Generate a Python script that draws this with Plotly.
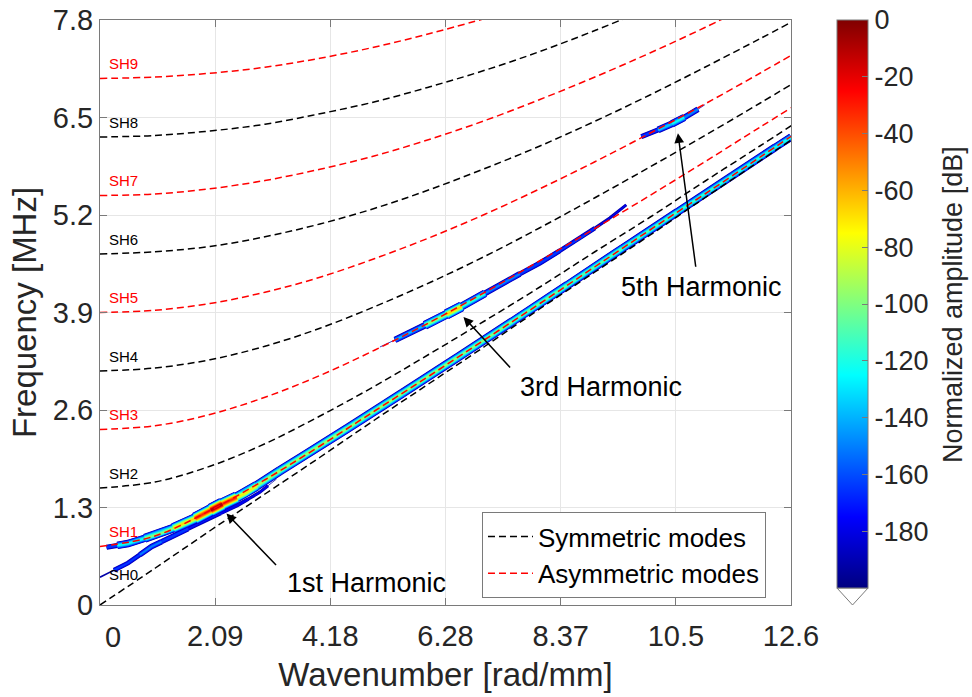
import plotly.graph_objects as go

# ---------------- data ----------------
# wavenumber samples (rad/mm) used for the SH dispersion curves
k_modes = [0, 1, 2, 3, 4, 5, 6, 7, 8, 9, 10, 11, 12, 12.57]
sh0 = [0, 0.49, 0.99, 1.48, 1.97, 2.47, 2.96, 3.45, 3.95, 4.44, 4.93, 5.43, 5.92, 6.20]
sh1 = [0.78, 0.92, 1.26, 1.67, 2.12, 2.59, 3.06, 3.54, 4.02, 4.51, 5.00, 5.48, 5.97, 6.25]
sh2 = [1.56, 1.64, 1.85, 2.15, 2.52, 2.92, 3.35, 3.79, 4.24, 4.71, 5.17, 5.65, 6.12, 6.39]
sh3 = [2.34, 2.39, 2.54, 2.77, 3.06, 3.40, 3.77, 4.17, 4.59, 5.02, 5.46, 5.91, 6.37, 6.63]
sh4 = [3.12, 3.16, 3.27, 3.45, 3.69, 3.98, 4.30, 4.65, 5.03, 5.43, 5.84, 6.26, 6.69, 6.94]
sh5 = [3.90, 3.93, 4.02, 4.17, 4.37, 4.62, 4.90, 5.21, 5.55, 5.91, 6.29, 6.68, 7.09, 7.33]
sh6 = [4.68, 4.71, 4.78, 4.91, 5.08, 5.29, 5.54, 5.82, 6.12, 6.45, 6.80, 7.17, 7.55, 7.77]
sh7 = [5.46, 5.48, 5.55, 5.66, 5.81, 5.99, 6.21, 6.46, 6.74, 7.04, 7.36, 7.70, 8.06]
sh8 = [6.24, 6.26, 6.32, 6.41, 6.55, 6.71, 6.91, 7.13, 7.38, 7.66, 7.96]
sh9 = [7.02, 7.04, 7.09, 7.17, 7.29, 7.44, 7.62, 7.82]
mode_names = ["SH0", "SH1", "SH2", "SH3", "SH4", "SH5", "SH6", "SH7", "SH8", "SH9"]

# 1st harmonic ridge (wavenumber, frequency, normalized amplitude dB)
h1_k = [0.12, 0.51, 1.12, 1.55, 1.91, 2.12, 2.33, 2.64, 3.06, 3.48, 4, 5, 6, 7, 8, 9, 10, 11, 12, 12.57]
h1_f = [0.77, 0.82, 0.96, 1.09, 1.22, 1.31, 1.38, 1.49, 1.69, 1.89, 2.12, 2.59, 3.06, 3.54, 4.02, 4.51, 5.00, 5.48, 5.97, 6.24]
h1_db = [-155, -118, -95, -65, -28, -3, -28, -70, -86, -88, -88, -90, -92, -95, -98, -102, -106, -110, -112, -115]
# weak lobe under the 1st harmonic (from the SH0 branch)
lobe_k = [0.0, 0.51, 0.94, 1.30, 1.9, 2.5, 2.9, 3.21]
lobe_f = [0.37, 0.56, 0.78, 0.91, 1.12, 1.33, 1.50, 1.68]
lobe_db = [-190, -160, -148, -155, -168, -170, -176, -195]
# 3rd harmonic ridge
h3_k = [5.09, 5.64, 6.18, 6.42, 6.73, 7.27, 8.0, 8.73, 9.27, 9.87]
h3_f = [3.44, 3.63, 3.83, 3.92, 4.04, 4.27, 4.56, 4.89, 5.16, 5.51]
h3_db = [-195, -135, -92, -65, -110, -145, -155, -162, -178, -197]
# 5th harmonic ridge
h5_k = [9.69, 10.0, 10.3, 10.5, 10.75, 11.0]
h5_f = [6.20, 6.29, 6.38, 6.45, 6.55, 6.67]
h5_db = [-197, -155, -130, -120, -145, -195]

x_tickvals = [0, 2.0944, 4.1888, 6.2832, 8.3776, 10.472, 12.566]
x_ticktext = ["0", "2.09", "4.18", "6.28", "8.37", "10.5", "12.6"]
y_tickvals = [0, 1.3, 2.6, 3.9, 5.2, 6.5, 7.8]
y_ticktext = ["0", "1.3", "2.6", "3.9", "5.2", "6.5", "7.8"]
cbar_ticks = [0, -20, -40, -60, -80, -100, -120, -140, -160, -180]

# ---------------- styling helpers ----------------
FONT = "Liberation Sans, Arial, sans-serif"
TXT = "#262626"
AX = "#7a7a7a"
JET = [(0.0, (0, 0, 128)), (0.125, (0, 0, 255)), (0.375, (0, 255, 255)),
       (0.625, (255, 255, 0)), (0.875, (255, 0, 0)), (1.0, (128, 0, 0))]
colorscale = [[t, "rgb(%d,%d,%d)" % c] for t, c in JET]


def jet(db):
    t = min(max((db + 200) / 200.0, 0), 1)
    for (t0, c0), (t1, c1) in zip(JET[:-1], JET[1:]):
        if t <= t1:
            u = (t - t0) / (t1 - t0)
            return "rgb(%d,%d,%d)" % tuple(round(a + (b - a) * u) for a, b in zip(c0, c1))
    return "rgb(128,0,0)"


LEVELS = list(range(-197, 0, 14))


def band_traces(ks, fs, dbs):
    n = len(ks)
    cells = []
    for i in range(n):
        xs, ys = [], []
        if i > 0:
            xs.append((ks[i - 1] + ks[i]) / 2)
            ys.append((fs[i - 1] + fs[i]) / 2)
        xs.append(ks[i])
        ys.append(fs[i])
        if i < n - 1:
            xs.append((ks[i + 1] + ks[i]) / 2)
            ys.append((fs[i + 1] + fs[i]) / 2)
        cells.append((xs, ys, dbs[i]))
    out = []
    for L in LEVELS:
        for xs, ys, db in cells:
            if db > L:
                w = 0.5 * (db - L) ** 0.62
                out.append(go.Scatter(x=xs, y=ys, mode="lines",
                                      line=dict(color=jet(L + 5), width=w),
                                      hoverinfo="skip", showlegend=False))
    return out


fig = go.Figure()

for tr in band_traces(lobe_k, lobe_f, lobe_db):
    fig.add_trace(tr)
for tr in band_traces(h1_k, h1_f, h1_db):
    fig.add_trace(tr)
for tr in band_traces(h3_k, h3_f, h3_db):
    fig.add_trace(tr)
for tr in band_traces(h5_k, h5_f, h5_db):
    fig.add_trace(tr)

modes = [sh0, sh1, sh2, sh3, sh4, sh5, sh6, sh7, sh8, sh9]
for n, vals in enumerate(modes):
    sym = n % 2 == 0
    fig.add_trace(go.Scatter(
        x=k_modes[:len(vals)], y=vals, mode="lines",
        line=dict(color="black" if sym else "rgb(255,0,0)", width=1.5,
                  dash="7px,4px", shape="spline"),
        name="Symmetric modes" if sym else "Asymmetric modes",
        legendgroup="sym" if sym else "asym",
        showlegend=(n < 2), hoverinfo="skip"))

# colour bar carrier
fig.add_trace(go.Scatter(
    x=[-5], y=[-5], mode="markers", showlegend=False, hoverinfo="skip",
    marker=dict(color=[-100], colorscale=colorscale, cmin=-200, cmax=0, showscale=True,
                colorbar=dict(x=1.0666, xanchor="left", y=1, yanchor="top",
                              len=0.971, lenmode="fraction", thickness=31,
                              thicknessmode="pixels", xpad=0, ypad=0,
                              outlinecolor=AX, outlinewidth=1,
                              ticks="inside", ticklen=6, tickcolor=AX,
                              ticklabeloverflow="allow",
                              tickvals=cbar_ticks, ticktext=[str(v) for v in cbar_ticks],
                              tickfont=dict(size=27, color=TXT, family=FONT)))))

annotations = []
for n, vals in enumerate(modes):
    annotations.append(dict(x=0.12, y=vals[0], xref="x", yref="y", text=mode_names[n],
                            showarrow=False, xanchor="left", yanchor="middle",
                            yshift=31 if n == 0 else 15,
                            font=dict(size=15, family=FONT,
                                      color="black" if n % 2 == 0 else "rgb(255,0,0)")))

arrows = [(2.30, 1.22, 51, 53, "1st Harmonic", 4.84, 0.293),
          (6.61, 3.84, 48, 52, "3rd Harmonic", 9.11, 2.91),
          (10.51, 6.29, 18, 135, "5th Harmonic", 10.94, 4.24)]
for x, y, ax, ay, txt, tx, ty in arrows:
    annotations.append(dict(x=x, y=y, xref="x", yref="y", ax=ax, ay=ay, text="",
                            showarrow=True, arrowhead=2, arrowsize=1.3, arrowwidth=1.5,
                            arrowcolor="black"))
    annotations.append(dict(x=tx, y=ty, xref="x", yref="y", text=txt, showarrow=False,
                            xanchor="center", yanchor="middle",
                            font=dict(size=27, family=FONT, color="black")))

annotations.append(dict(x=1.2344, y=0.5145, xref="paper", yref="paper",
                        text="Normalized amplitude [dB]", textangle=-90, showarrow=False,
                        xanchor="center", yanchor="middle",
                        font=dict(size=27, family=FONT, color=TXT)))

# first x tick label sits slightly right of its tick in the original
annotations.append(dict(x=x_tickvals[0], y=0, xref="x", yref="paper", text=x_ticktext[0],
                        showarrow=False, xanchor="center", yanchor="top",
                        xshift=13, yshift=-14,
                        font=dict(size=29, family=FONT, color=TXT)))

x0, x1 = 1.0666, 1.0666 + 31 / 691
fig.add_shape(type="path", xref="paper", yref="paper",
              path="M %f,%f L %f,%f L %f,%f Z" % (x0, 0.029, x1, 0.029, (x0 + x1) / 2, 0.0),
              fillcolor="white", line=dict(color=AX, width=1))

tt = list(x_ticktext)
tt[0] = ""

fig.update_layout(
    width=972, height=697,
    margin=dict(l=100, r=181, t=20, b=92, autoexpand=False),
    paper_bgcolor="white", plot_bgcolor="white",
    font=dict(family=FONT, color=TXT),
    annotations=annotations,
    legend=dict(x=0.9638, xanchor="right", y=0.012, yanchor="bottom",
                bgcolor="white", bordercolor=AX, borderwidth=1,
                font=dict(size=26, family=FONT, color="black"),
                itemwidth=45, tracegroupgap=0),
    xaxis=dict(range=[0, 12.566], tickvals=x_tickvals, ticktext=tt, automargin=False,
               showgrid=True, gridcolor="#e6e6e6", zeroline=False,
               showline=True, linecolor=AX, mirror="ticks",
               ticks="inside", ticklen=7, tickcolor=AX, ticklabelstandoff=5,
               ticklabeloverflow="allow",
               tickfont=dict(size=29, family=FONT, color=TXT),
               title=dict(text="Wavenumber [rad/mm]", standoff=12,
                          font=dict(size=33, family=FONT, color=TXT))),
    yaxis=dict(range=[0, 7.8], tickvals=y_tickvals, ticktext=y_ticktext, automargin=False,
               showgrid=True, gridcolor="#e6e6e6", zeroline=False,
               showline=True, linecolor=AX, mirror="ticks",
               ticks="inside", ticklen=7, tickcolor=AX,
               ticklabeloverflow="allow",
               tickfont=dict(size=29, family=FONT, color=TXT),
               title=dict(text="Frequency [MHz]", standoff=6,
                          font=dict(size=33, family=FONT, color=TXT))),
)

fig.write_html("out.html", config={"displayModeBar": False},
               post_script="document.body.style.margin='0px';document.body.style.overflow='hidden';")
